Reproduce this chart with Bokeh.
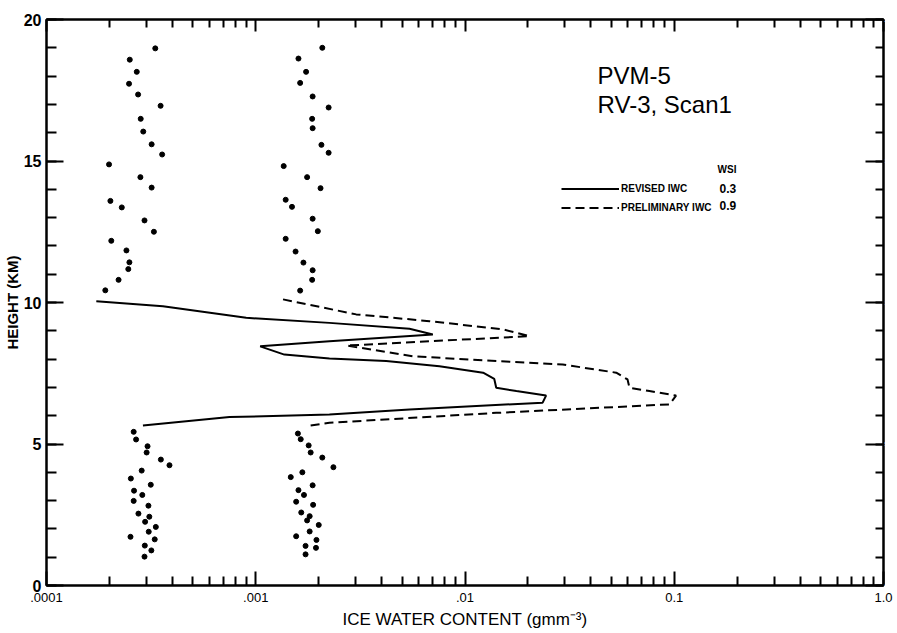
from bokeh.plotting import figure
from bokeh.models import (FixedTicker, LinearAxis, LogAxis, Label, Legend, LegendItem,
                          Range1d, CustomJSTickFormatter)
from bokeh.embed import file_html
from bokeh.resources import INLINE

# ---------------- data ----------------
x_tick_values = [0.0001, 0.001, 0.01, 0.1, 1.0]
x_tick_labels = [".0001", ".001", ".01", "0.1", "1.0"]
y_tick_values = [0, 5, 10, 15, 20]

left_dots_iwc = [3.31e-4, 2.50e-4, 2.70e-4, 2.48e-4, 2.74e-4, 3.51e-4, 2.82e-4, 2.90e-4, 3.18e-4, 3.57e-4,
                 1.99e-4, 2.81e-4, 3.18e-4, 2.02e-4, 2.29e-4, 2.94e-4, 3.26e-4, 2.04e-4, 2.41e-4, 2.49e-4,
                 2.46e-4, 2.21e-4, 1.91e-4,
                 2.61e-4, 2.68e-4, 3.04e-4, 3.01e-4, 3.52e-4, 3.87e-4, 2.85e-4, 2.53e-4, 3.15e-4, 2.62e-4,
                 2.87e-4, 2.61e-4, 3.07e-4, 2.75e-4, 3.10e-4, 2.96e-4, 3.33e-4, 3.08e-4, 2.52e-4, 3.29e-4,
                 2.95e-4, 3.17e-4, 2.94e-4]
left_dots_height = [18.98, 18.58, 18.15, 17.73, 17.35, 16.95, 16.49, 16.04, 15.59, 15.23,
                    14.88, 14.43, 14.06, 13.59, 13.36, 12.90, 12.50, 12.18, 11.84, 11.42,
                    11.18, 10.80, 10.43,
                    5.43, 5.16, 4.92, 4.70, 4.45, 4.25, 4.06, 3.78, 3.56, 3.35,
                    3.20, 2.99, 2.82, 2.54, 2.43, 2.25, 2.07, 1.90, 1.72, 1.63,
                    1.41, 1.24, 1.02]
right_dots_iwc = [2.08e-3, 1.60e-3, 1.74e-3, 1.63e-3, 1.87e-3, 2.23e-3, 1.86e-3, 1.87e-3, 2.06e-3, 2.23e-3,
                  1.36e-3, 1.76e-3, 2.04e-3, 1.39e-3, 1.49e-3, 1.87e-3, 1.98e-3, 1.39e-3, 1.55e-3, 1.69e-3,
                  1.87e-3, 1.86e-3, 1.63e-3,
                  1.59e-3, 1.64e-3, 1.79e-3, 1.83e-3, 2.08e-3, 2.35e-3, 1.67e-3, 1.47e-3, 1.87e-3, 1.60e-3,
                  1.70e-3, 1.56e-3, 1.88e-3, 1.65e-3, 1.81e-3, 1.76e-3, 2.00e-3, 1.81e-3, 1.56e-3, 1.95e-3,
                  1.73e-3, 1.94e-3, 1.73e-3]
right_dots_height = [19.00, 18.62, 18.15, 17.76, 17.28, 16.89, 16.49, 16.16, 15.57, 15.29,
                     14.82, 14.43, 14.04, 13.63, 13.38, 12.96, 12.52, 12.25, 11.80, 11.41,
                     11.14, 10.80, 10.42,
                     5.37, 5.17, 4.95, 4.70, 4.52, 4.18, 4.00, 3.83, 3.54, 3.37,
                     3.20, 2.96, 2.85, 2.58, 2.45, 2.30, 2.14, 1.91, 1.74, 1.61,
                     1.40, 1.33, 1.10]

revised_iwc = [1.73e-4, 3.60e-4, 9.0e-4, 2.25e-3, 5.43e-3, 7.02e-3, 2.25e-3, 1.05e-3, 1.37e-3, 2.25e-3,
               4.20e-3, 7.55e-3, 1.22e-2, 1.38e-2, 1.41e-2, 1.76e-2, 2.44e-2, 2.35e-2, 5.43e-3, 2.25e-3,
               7.49e-4, 2.89e-4]
revised_height = [10.04, 9.87, 9.46, 9.28, 9.07, 8.87, 8.63, 8.45, 8.16, 8.02,
                  7.93, 7.75, 7.52, 7.30, 6.99, 6.87, 6.71, 6.46, 6.22, 6.04,
                  5.95, 5.65]

prelim_iwc = [1.35e-3, 3.02e-3, 6.77e-3, 1.52e-2, 2.03e-2, 6.77e-3, 2.72e-3, 5.63e-3, 1.41e-2, 2.93e-2,
              5.28e-2, 5.98e-2, 6.11e-2, 7.61e-2, 0.102, 9.49e-2, 1.41e-2, 2.25e-3, 1.74e-3]
prelim_height = [10.11, 9.58, 9.34, 9.05, 8.81, 8.63, 8.48, 8.10, 7.93, 7.81,
                 7.52, 7.28, 6.99, 6.87, 6.71, 6.40, 6.10, 5.75, 5.63]

series_names = ["REVISED IWC", "PRELIMINARY IWC"]
wsi_values = ["0.3", "0.9"]

# ---------------- figure ----------------
p = figure(frame_width=837, frame_height=566,
           x_axis_type="log", x_range=Range1d(1e-4, 1.0), y_range=Range1d(0, 20),
           output_backend="svg", toolbar_location=None,
           min_border_left=42, min_border_top=19, min_border_right=8, min_border_bottom=44,
           outline_line_color="black", outline_line_width=2,
           background_fill_alpha=0, border_fill_color="white")
p.grid.visible = False

minor_x = [k * 10.0 ** e for e in range(-4, 0) for k in range(2, 10)]
x_ticker = FixedTicker(ticks=x_tick_values, minor_ticks=minor_x)
y_ticker = FixedTicker(ticks=y_tick_values, minor_ticks=list(range(0, 21)))
x_ticker_top = FixedTicker(ticks=x_tick_values, minor_ticks=minor_x)
y_ticker_right = FixedTicker(ticks=y_tick_values, minor_ticks=list(range(0, 21)))

x_fmt = CustomJSTickFormatter(args=dict(v=x_tick_values, l=x_tick_labels), code="""
let best = 0, bd = 1e9;
for (let i = 0; i < v.length; i++) {
  const d = Math.abs(Math.log10(tick) - Math.log10(v[i]));
  if (d < bd) { bd = d; best = i; }
}
return l[best];
""")

def style_axis(ax, maj_in, min_in):
    ax.level = "overlay"
    ax.axis_line_width = 2
    ax.axis_line_color = "black"
    ax.major_tick_in = maj_in
    ax.major_tick_out = 0
    ax.minor_tick_in = min_in
    ax.minor_tick_out = 0
    ax.major_tick_line_width = 2
    ax.minor_tick_line_width = 2
    ax.major_tick_line_color = "black"
    ax.minor_tick_line_color = "black"

xa = p.xaxis[0]
xa.ticker = x_ticker
xa.formatter = x_fmt
style_axis(xa, 14, 9)
xa.major_label_text_font = "Liberation Sans"
xa.major_label_text_font_size = "13px"
xa.major_label_text_color = "black"
xa.major_label_standoff = 7
xa.axis_label = "ICE WATER CONTENT (gmm\u207b\u00b3)"
xa.axis_label_text_font = "Liberation Sans"
xa.axis_label_text_font_style = "normal"
xa.axis_label_text_font_size = "17px"
xa.axis_label_text_color = "black"
xa.axis_label_standoff = 5

ya = p.yaxis[0]
ya.ticker = y_ticker
style_axis(ya, 17, 10)
ya.major_label_text_font = "Liberation Sans"
ya.major_label_text_font_style = "bold"
ya.major_label_text_font_size = "16px"
ya.major_label_text_color = "black"
ya.major_label_standoff = 5
ya.axis_label = "HEIGHT (KM)"
ya.axis_label_text_font = "Liberation Sans"
ya.axis_label_text_font_style = "bold"
ya.axis_label_text_font_size = "15px"
ya.axis_label_text_color = "black"
ya.axis_label_standoff = 0

# top and right axes: white (invisible) labels sized to fill their border panels
top_ax = LogAxis(ticker=x_ticker_top, formatter=x_fmt,
                 major_label_text_color="white", major_label_text_font="Liberation Sans",
                 major_label_text_font_size="13px", major_label_standoff=4)
style_axis(top_ax, 12, 8)
p.add_layout(top_ax, "above")

right_ax = LinearAxis(ticker=y_ticker_right,
                      major_label_text_color="white", major_label_text_font="Liberation Sans",
                      major_label_text_font_size="6px", major_label_standoff=1)
style_axis(right_ax, 18, 8)
p.add_layout(right_ax, "right")

# ---------------- marks ----------------
p.scatter(left_dots_iwc, left_dots_height, size=5, color="black")
p.scatter(right_dots_iwc, right_dots_height, size=5, color="black")
r_rev = p.line(revised_iwc, revised_height, line_color="black", line_width=2)
r_pre = p.line(prelim_iwc, prelim_height, line_color="black", line_width=2, line_dash="9 5")

legend = Legend(items=[LegendItem(label=series_names[0], renderers=[r_rev]),
                       LegendItem(label=series_names[1], renderers=[r_pre])],
                location=(515, 368), padding=0, margin=0, spacing=0,
                glyph_width=58, glyph_height=19, label_height=19, label_standoff=2,
                border_line_alpha=0, background_fill_alpha=0,
                label_text_font="Liberation Sans", label_text_font_style="bold",
                label_text_font_size="10px", label_text_color="black")
p.add_layout(legend)

def add_label(x, y, text, size, style="normal", baseline="alphabetic"):
    p.add_layout(Label(x=x, y=y, text=text, text_font="Liberation Sans",
                       text_font_size=size, text_font_style=style, text_color="black",
                       text_baseline=baseline))

add_label(0.043, 18.03, "PVM-5", "24px")
add_label(0.043, 17.00, "RV-3, Scan1", "24px")
add_label(0.161, 14.70, "WSI", "10px", "bold", "middle")
add_label(0.1645, 14.02, wsi_values[0], "12px", "bold", "middle")
add_label(0.1645, 13.43, wsi_values[1], "12px", "bold", "middle")

open("out.html", "w").write(file_html(p, INLINE))
